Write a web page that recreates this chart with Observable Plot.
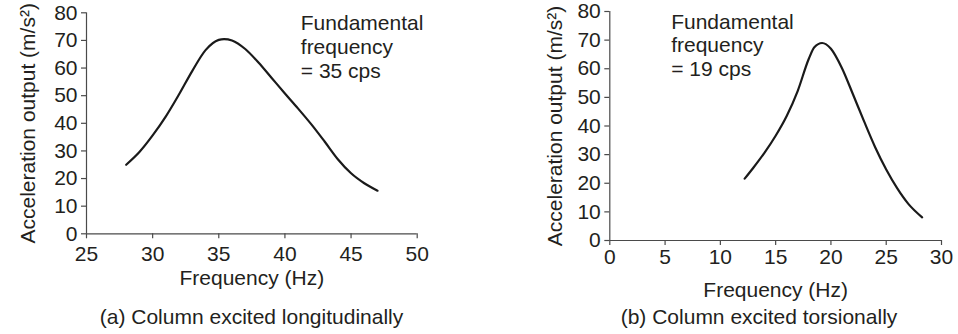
<!DOCTYPE html>
<html>
<head>
<meta charset="utf-8">
<script src="https://cdn.jsdelivr.net/npm/d3@7"></script>
<script src="https://cdn.jsdelivr.net/npm/@observablehq/plot@0.6"></script>
<style>
  html, body { margin: 0; padding: 0; background: #fff; }
  #charts { display: flex; width: 958px; height: 334px; overflow: hidden; }
  .panel { width: 479px; flex: none; }
  .panel svg { display: block; overflow: visible; }
  .caption {
    font-family: "Liberation Sans", Arial, Helvetica, sans-serif;
    font-size: 21px;
    color: #231f20;
    text-align: center;
    white-space: nowrap;
  }
</style>
</head>
<body>
<div id="charts"></div>
<script>
// (a) Column excited longitudinally
const longFreq  = [28, 29, 30, 31, 32, 33, 34, 35, 35.4, 36, 37, 38, 39, 40, 41, 42, 43, 44, 45, 46, 47];
const longAccel = [25, 29.6, 35.6, 42.5, 50.5, 59.0, 66.5, 70.2, 70.5, 70.0, 66.9, 62.0, 56.4, 50.8, 45.3, 39.6, 33.4, 27.0, 21.9, 18.3, 15.6];
const longTicksX = [25, 30, 35, 40, 45, 50];

// (b) Column excited torsionally
const torFreq  = [12.2, 13, 14, 15, 16, 17, 18, 18.5, 19.2, 20, 21, 22, 23, 24, 25, 26, 27, 28.25];
const torAccel = [21.6, 25.5, 30.7, 36.6, 43.5, 52.3, 63.5, 67.5, 69.0, 67.0, 60.2, 51.0, 41.6, 32.6, 24.8, 18.2, 12.8, 8.1];
const torTicksX = [0, 5, 10, 15, 20, 25, 30];

const ticksY = [0, 10, 20, 30, 40, 50, 60, 70, 80];
const fundamental = [35, 19];          // cps
const noteX = [41.2, 5.55];            // left edge of the note, in Hz
const captions = ["(a) Column excited longitudinally", "(b) Column excited torsionally"];
const xLabel = "Frequency (Hz)";
const yLabel = "Acceleration output (m/s²)";

const FONT = '"Liberation Sans", Arial, Helvetica, sans-serif';
const INK = "#231f20";
const AXIS = "#4a4a4a";

function panel({freq, accel, xDomain, xTicks, fund, nx, caption, m, h, xTickPad, xLabelDy, yLabelDx, capPad, capLine}) {
  const data = freq.map((f, i) => ({f, a: accel[i]}));
  const note = [{x: nx, y: 80, text: `Fundamental\nfrequency\n= ${fund} cps`}];
  const chart = Plot.plot({
    width: 479,
    height: h,
    marginLeft: m[0], marginRight: m[1], marginTop: m[2], marginBottom: m[3],
    style: {fontFamily: FONT, fontSize: "21px", color: INK, background: "transparent", overflow: "visible"},
    x: {domain: xDomain, ticks: xTicks, tickFormat: d => String(d), tickSize: 5, tickPadding: xTickPad, label: null},
    y: {domain: [0, 80], ticks: ticksY, tickFormat: d => String(d), tickSize: 5, tickPadding: 4, label: null},
    marks: [
      Plot.ruleX([xDomain[0]], {stroke: AXIS, strokeWidth: 1.2}),
      Plot.ruleY([0], {stroke: AXIS, strokeWidth: 1.2}),
      Plot.line(data, {x: "f", y: "a", curve: "monotone-x", stroke: "#1a1a1a", strokeWidth: 2.2}),
      Plot.text(note, {x: "x", y: "y", text: "text", textAnchor: "start", lineAnchor: "top",
        lineHeight: 1.14, fontSize: 21, fill: INK}),
      Plot.text([xLabel], {frameAnchor: "bottom", textAnchor: "middle", dy: xLabelDy, fontSize: 21, fill: INK}),
      Plot.text([yLabel], {frameAnchor: "left", textAnchor: "middle", rotate: -90, dx: yLabelDx, fontSize: 21, fill: INK})
    ]
  });
  // tick lines share the axis grey
  d3.select(chart).selectAll("[aria-label='x-axis tick'], [aria-label='y-axis tick']").attr("stroke", AXIS);
  d3.select(chart).selectAll("[aria-label='x-axis tick'] path, [aria-label='y-axis tick'] path").attr("stroke", AXIS).attr("stroke-width", 1.2);
  const wrap = document.createElement("div");
  wrap.className = "panel";
  wrap.appendChild(chart);
  const cap = document.createElement("div");
  cap.className = "caption";
  cap.style.paddingLeft = capPad + "px";
  cap.style.lineHeight = capLine + "px";
  cap.textContent = caption;
  wrap.appendChild(cap);
  return wrap;
}

const root = document.getElementById("charts");
root.appendChild(panel({
  freq: longFreq, accel: longAccel, xDomain: [25, 50], xTicks: longTicksX,
  fund: fundamental[0], nx: noteX[0], caption: captions[0],
  m: [86, 62.3, 12.3, 66.7], h: 300, xTickPad: 7, xLabelDy: 51.5, yLabelDx: -58,
  capPad: 24, capLine: 34
}));
root.appendChild(panel({
  freq: torFreq, accel: torAccel, xDomain: [0, 30], xTicks: torTicksX,
  fund: fundamental[1], nx: noteX[1], caption: captions[1],
  m: [130.3, 17, 11, 66], h: 306, xTickPad: 4, xLabelDy: 56, yLabelDx: -55,
  capPad: 81, capLine: 22
}));
</script>
</body>
</html>
